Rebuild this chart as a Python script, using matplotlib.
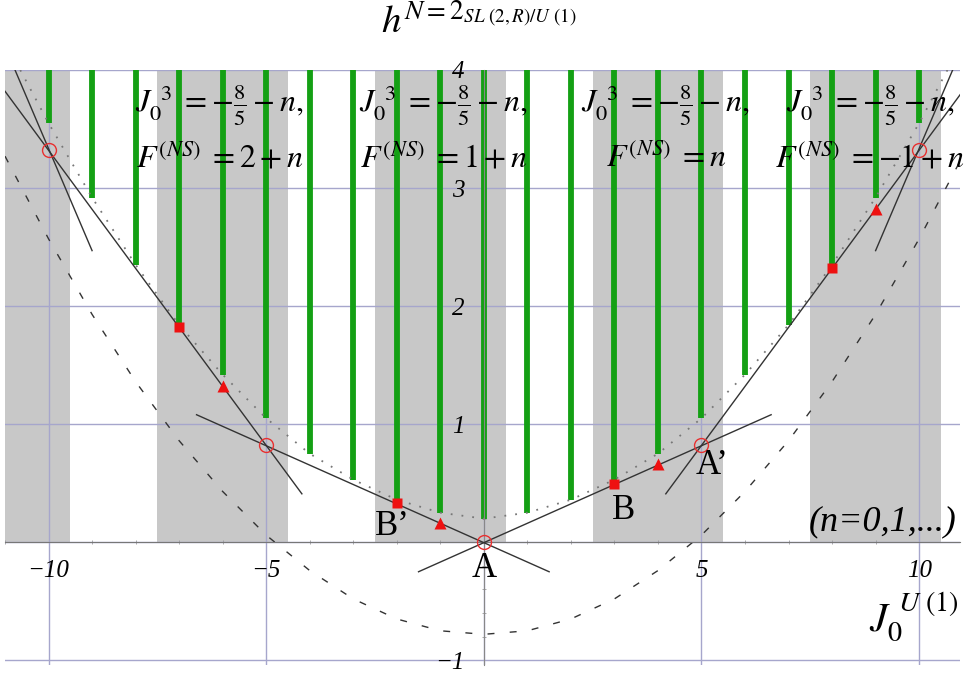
import matplotlib.pyplot as plt
from matplotlib.ticker import MultipleLocator

plt.rcParams['mathtext.fontset'] = 'stix'
plt.rcParams['font.family'] = ['Liberation Serif', 'DejaVu Serif']

# green states: J0 position and the h value where each one stops (top is 4)
green_x = list(range(-10, 11))
green_bottom = [3.55, 2.92, 2.35, 1.84, 1.42, 1.05, 0.75, 0.53, 0.36, 0.25, 0.20,
                0.25, 0.36, 0.53, 0.75, 1.05, 1.42, 1.84, 2.35, 2.92, 3.55]
green_top = 4.0

# gray bands
band_left = [-12.5, -7.5, -2.5, 2.5, 7.5]
band_width = 3
band_height = 4

# dotted bound (through the green ends)
dot_x = [-10.65] + green_x + [10.65]
dot_y = [4.0] + green_bottom + [4.0]

# dashed curve
dash_x = list(range(-11, 12))
dash_y = [3.27, 2.57, 1.93, 1.36, 0.86, 0.43, 0.06, -0.24, -0.48, -0.65, -0.75, -0.78,
          -0.75, -0.65, -0.48, -0.24, 0.06, 0.43, 0.86, 1.36, 1.93, 2.57, 3.27]

# solid straight lines (start / end points)
seg_x0 = [-6.6, -1.5, -11.0, 4.18, -10.77, 9.0]
seg_y0 = [1.08, -0.25, 3.82, 0.41, 4.0, 2.47]
seg_x1 = [1.5, 6.6, -4.18, 11.0, -9.0, 10.77]
seg_y1 = [-0.25, 1.08, 0.41, 3.82, 2.47, 4.0]

# red markers
circ_x = [-10, -5, 0, 5, 10]
circ_y = [3.32, 0.82, 0.0, 0.82, 3.32]
sq_x = [-7, -2, 3, 8]
sq_y = [1.82, 0.33, 0.49, 2.32]
tri_x = [-6, -1, 4, 9]
tri_y = [1.32, 0.16, 0.66, 2.82]

# region labels
region_x = [-6.07, -0.92, 4.18, 8.87]
region_F = [r'$F^{(NS)}\; = 2 + n$', r'$F^{(NS)}\; = \mathit{1} + n$',
            r'$F^{(NS)}\; = n$', r'$F^{(NS)}\; = -\mathit{1} + n$']
J3_text = r'$J_{\mathit{0}}^{\ \,3}\; = -\frac{\mathit{8}}{\mathit{5}} - n,$'

point_labels = ['A', 'A\u2019', 'B', 'B\u2019']
point_lx = [0.0, 5.24, 3.2, -2.1]
point_ly = [-0.22, 0.65, 0.27, 0.13]

xticks = [-10, -5, 0, 5, 10]
xtick_labels = ['\u221210', '\u22125', '', '5', '10']
yticks = [-1, 0, 1, 2, 3, 4]
ytick_labels = ['\u22121', '', '1', '2', '3', '4']

fig = plt.figure(figsize=(9.64, 6.75), dpi=100)
ax = fig.add_axes([0.0052, 0.0148, 0.9907, 0.8815])
ax.set_xlim(-11.0, 10.94)
ax.set_ylim(-1.04, 4.0)
ax.set_axisbelow(True)

ax.bar(band_left, band_height, width=band_width, bottom=0, align='edge',
       color='#c8c8c8', zorder=0.2)

ax.vlines(green_x, green_bottom, green_top, color='#14a014', lw=4.2, zorder=2)

ax.plot(dot_x, dot_y, color='#777777', lw=1.3, ls=(0, (1, 5)), zorder=2.5)
ax.plot(dash_x, dash_y, color='#333333', lw=1.0, ls=(0, (5, 11)), zorder=2.5)

for x0, y0, x1, y1 in zip(seg_x0, seg_y0, seg_x1, seg_y1):
    ax.plot([x0, x1], [y0, y1], color='#333333', lw=1.0, zorder=3)

ax.plot(sq_x, sq_y, 's', color='#ee1111', ms=7, mec='none', zorder=4)
ax.plot(tri_x, tri_y, '^', color='#ee1111', ms=8, mec='none', zorder=4)
ax.plot(circ_x, circ_y, 'o', mfc='none', mec='#e83030', ms=10, mew=1.0, zorder=4)

for rx, ft in zip(region_x, region_F):
    ax.text(rx, 3.70, J3_text, fontsize=23, ha='center', va='center', zorder=5)
    ax.text(rx, 3.25, ft, fontsize=23, ha='center', va='center', zorder=5)

for lab, lx, ly in zip(point_labels, point_lx, point_ly):
    ax.text(lx, ly, lab, fontsize=25, ha='center', va='center', zorder=5)

ax.text(9.15, 0.17, '(n=0,1,...)', fontsize=26, fontstyle='italic',
        ha='center', va='center', zorder=5)

ax.text(9.88, -0.64, r'$J_{\mathit{0}}^{\ U\ (\mathit{1})}$', fontsize=29,
        ha='center', va='center', zorder=5)
fig.text(0.497, 0.966, r'$h^{N=2_{SL\ (2,R)/U\ (\mathit{1})}}$', fontsize=28,
         ha='center', va='center')

# axes through the origin
for s in ['top', 'right']:
    ax.spines[s].set_visible(False)
ax.spines['bottom'].set_position(('data', 0))
ax.spines['left'].set_position(('data', 0))
ax.spines['bottom'].set_color('#777777')
ax.spines['left'].set_color('#888888')

ax.set_xticks(xticks, xtick_labels, fontstyle='italic', fontsize=18)
ax.set_yticks(yticks, ytick_labels, fontstyle='italic', fontsize=18)
ax.xaxis.set_minor_locator(MultipleLocator(1))
ax.yaxis.set_minor_locator(MultipleLocator(0.2))
ax.tick_params(which='major', length=0)
ax.tick_params(axis='x', which='major', pad=13)
ax.tick_params(axis='y', which='major', pad=14)
ax.tick_params(which='minor', length=3, color='#999999', direction='inout')
ax.grid(True, which='major', color='#a6a6cc', lw=1.0)

fig.savefig('out.png', dpi=100)
